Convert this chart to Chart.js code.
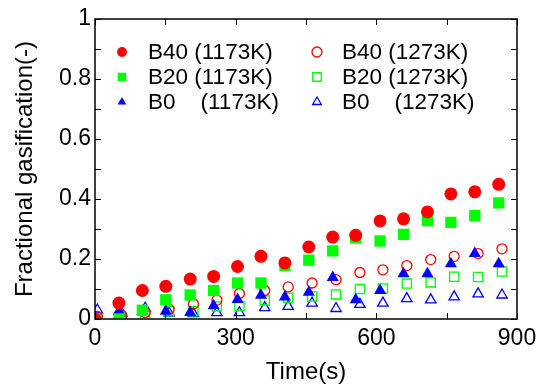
<!DOCTYPE html>
<html>
<head>
<meta charset="utf-8">
<script src="https://cdn.jsdelivr.net/npm/chart.js@4/dist/chart.umd.min.js"></script>
<style>
  html, body { margin: 0; padding: 0; background: #fff; }
  #wrap { width: 545px; height: 387px; }
</style>
</head>
<body>
<div id="wrap"><canvas id="chartGas" width="545" height="387"></canvas></div>
<script>
// time (s) for 1173K runs and 1273K runs
const time1173 = [0, 51, 101, 151, 203, 253, 304, 354, 405, 456, 507, 556, 608, 658, 709, 759, 810, 861]
const time1273 = [5, 57, 107, 158, 210, 260, 308, 362, 412, 463, 514, 565, 614, 665, 716, 766, 817, 868]

const b40_1173 = [0.0, 0.053, 0.095, 0.109, 0.133, 0.142, 0.175, 0.209, 0.187, 0.24, 0.273, 0.279, 0.327, 0.334, 0.357, 0.417, 0.424, 0.449]
const b20_1173 = [0.0, 0.0, 0.029, 0.064, 0.08, 0.095, 0.12, 0.12, 0.178, 0.196, 0.227, 0.27, 0.26, 0.282, 0.328, 0.322, 0.345, 0.387]
const b0_1173 = [0.005, 0.026, 0.026, 0.026, 0.022, 0.044, 0.065, 0.079, 0.073, 0.089, 0.138, 0.064, 0.095, 0.151, 0.151, 0.184, 0.218, 0.184]

const b40_1273 = [0.009, 0.012, 0.022, 0.033, 0.05, 0.063, 0.085, 0.095, 0.107, 0.12, 0.131, 0.155, 0.164, 0.178, 0.198, 0.209, 0.218, 0.234]
const b20_1273 = [0.0, 0.005, 0.011, 0.026, 0.026, 0.042, 0.043, 0.062, 0.071, 0.075, 0.082, 0.1, 0.102, 0.118, 0.122, 0.141, 0.14, 0.158]
const b0_1273 = [0.03, 0.02, 0.036, 0.02, 0.018, 0.021, 0.021, 0.038, 0.042, 0.053, 0.035, 0.049, 0.053, 0.068, 0.064, 0.074, 0.084, 0.08]

const labels = ['B40 (1173K)', 'B20 (1173K)', 'B0    (1173K)', 'B40 (1273K)', 'B20 (1273K)', 'B0    (1273K)']

const FONT = "'Liberation Sans', Arial, sans-serif"

const pts = (xs, ys) => xs.map((x, i) => ({ x: x, y: ys[i] }))

function series(label, xs, ys, color, style, filled, r) {
  return {
    label: label,
    data: pts(xs, ys),
    showLine: false,
    pointStyle: style,
    pointRadius: r,
    pointHoverRadius: r,
    pointBackgroundColor: filled ? color : 'rgba(0,0,0,0)',
    pointBorderColor: color,
    pointBorderWidth: filled ? 0 : 1.3,
    backgroundColor: filled ? color : 'rgba(0,0,0,0)',
    borderColor: color
  }
}

// box, inward ticks and the two-column legend
const framePlugin = {
  id: 'frame',
  afterDraw(chart) {
    const c = chart.ctx
    const a = chart.chartArea
    const xs = chart.scales.x
    const ys = chart.scales.y
    const len = 6
    c.save()
    c.strokeStyle = '#000'
    c.lineWidth = 1.5
    c.strokeRect(a.left, a.top, a.right - a.left, a.bottom - a.top)
    c.lineWidth = 1
    c.beginPath()
    xs.ticks.forEach(t => {
      const px = Math.round(xs.getPixelForValue(t.value)) + 0.5
      c.moveTo(px, a.bottom); c.lineTo(px, a.bottom - len)
      c.moveTo(px, a.top); c.lineTo(px, a.top + len)
    })
    ys.ticks.forEach(t => {
      const py = Math.round(ys.getPixelForValue(t.value)) + 0.5
      c.moveTo(a.left, py); c.lineTo(a.left + len, py)
      c.moveTo(a.right, py); c.lineTo(a.right - len, py)
    })
    c.stroke()

    // legend
    const cols = [{ mx: 122, tx: 148 }, { mx: 317, tx: 342 }]
    const rows = [52, 77, 102]
    chart.data.datasets.forEach((ds, i) => {
      const col = cols[Math.floor(i / 3)]
      const y = rows[i % 3]
      c.fillStyle = ds.pointBackgroundColor
      c.strokeStyle = ds.pointBorderColor
      c.lineWidth = ds.pointBorderWidth
      Chart.helpers.drawPoint(c, {
        pointStyle: ds.pointStyle,
        radius: ds.pointStyle === 'rect' ? 6 : 5,
        borderWidth: ds.pointBorderWidth
      }, col.mx, y)
      c.font = '22.5px ' + FONT
      c.textBaseline = 'middle'
      c.fillStyle = '#000'
      c.fillText(ds.label, col.tx, y + 1)
    })
    c.restore()
  }
}

const ctx = document.getElementById('chartGas')

const chartGas = new Chart(ctx, {
  type: 'scatter',
  data: {
    datasets: [
      series(labels[0], time1173, b40_1173, '#ff0000', 'circle', true, 6.5),
      series(labels[1], time1173, b20_1173, '#00ff00', 'rect', true, 8),
      series(labels[2], time1173, b0_1173, '#0000ff', 'triangle', true, 7),
      series(labels[3], time1273, b40_1273, '#ff0000', 'circle', false, 5),
      series(labels[4], time1273, b20_1273, '#00ff00', 'rect', false, 6.5),
      series(labels[5], time1273, b0_1273, '#0000ff', 'triangle', false, 6)
    ]
  },
  options: {
    responsive: false,
    animation: false,
    layout: { padding: { top: 19, right: 28, left: 0, bottom: 0 } },
    plugins: {
      legend: { display: false },
      tooltip: { enabled: false }
    },
    scales: {
      x: {
        type: 'linear',
        min: 0,
        max: 900,
        grid: { display: false, drawTicks: false },
        border: { display: false },
        ticks: {
          stepSize: 150,
          autoSkip: false,
          maxRotation: 0,
          padding: 6,
          color: '#000',
          font: { family: FONT, size: 23 },
          callback: v => (v % 300 === 0 ? String(v) : '')
        },
        title: {
          display: true,
          text: 'Time(s)',
          color: '#000',
          font: { family: FONT, size: 24 },
          padding: { top: 0, bottom: 0 }
        },
        afterFit: s => { s.height = 68 }
      },
      y: {
        type: 'linear',
        min: 0,
        max: 1,
        grid: { display: false, drawTicks: false },
        border: { display: false },
        ticks: {
          stepSize: 0.1,
          autoSkip: false,
          padding: 4,
          color: '#000',
          font: { family: FONT, size: 23 },
          callback: v => {
            const k = Math.round(v * 10)
            return k % 2 === 0 ? String(k / 10) : ''
          }
        },
        title: {
          display: true,
          text: 'Fractional gasification(-)',
          color: '#000',
          font: { family: FONT, size: 24 },
          padding: { top: 11, bottom: 0 }
        },
        afterFit: s => { s.width = 95 }
      }
    }
  },
  plugins: [framePlugin]
})
</script>
</body>
</html>
